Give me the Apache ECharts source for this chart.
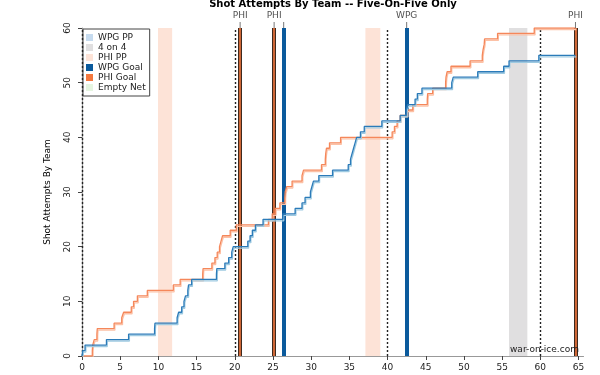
<!DOCTYPE html>
<html>
<head>
<meta charset="utf-8">
<script src="https://cdn.jsdelivr.net/npm/echarts@6/dist/echarts.min.js"></script>
<style>
  html, body { margin: 0; padding: 0; background: #fff; }
  #chart { width: 600px; height: 375px; }
</style>
</head>
<body>
<div id="chart"></div>
<script>
// cumulative shot attempts, step points (game minute, count)
var phiTimes = [0, 1.35, 1.4, 1.6, 1.95, 2.0, 4.2, 5.2, 5.45, 6.45, 6.75, 7.25, 8.55, 11.95, 12.85, 15.8, 15.85, 17.0, 17.4, 17.7, 18.0, 18.2, 18.4, 19.4, 20.2, 24.4, 24.9, 25.3, 25.9, 26.55, 26.6, 26.8, 27.5, 28.8, 29.0, 31.35, 31.85, 31.9, 32.0, 32.4, 33.85, 40.6, 40.9, 41.25, 41.65, 42.55, 43.3, 45.2, 45.25, 45.9, 47.6, 47.65, 47.8, 48.3, 50.8, 52.4, 52.5, 52.65, 52.7, 54.4, 59.2, 64.6];
var phiCounts = [0, 1, 2, 3, 4, 5, 6, 7, 8, 9, 10, 11, 12, 13, 14, 15, 16, 17, 18, 19, 20, 21, 22, 23, 24, 25, 26, 27, 28, 29, 30, 31, 32, 33, 34, 35, 36, 37, 38, 39, 40, 41, 42, 43, 44, 45, 46, 47, 48, 49, 50, 51, 52, 53, 54, 55, 56, 57, 58, 59, 60, 60];
var wpgTimes = [0, 0.1, 0.4, 3.2, 6.1, 9.5, 9.55, 12.45, 12.65, 13.05, 13.35, 13.55, 13.85, 13.95, 14.35, 17.6, 17.65, 18.7, 19.2, 19.6, 19.8, 21.7, 22.0, 22.3, 22.7, 23.7, 26.3, 27.9, 28.8, 29.2, 29.9, 30.1, 30.3, 31.0, 32.8, 34.85, 35.15, 35.35, 35.55, 35.75, 35.95, 36.45, 36.95, 39.25, 41.65, 42.45, 42.65, 43.6, 43.9, 44.5, 48.4, 48.6, 51.8, 55.2, 55.9, 59.8, 64.6];
var wpgCounts = [0, 1, 2, 3, 4, 5, 6, 7, 8, 9, 10, 11, 12, 13, 14, 15, 16, 17, 18, 19, 20, 21, 22, 23, 24, 25, 26, 27, 28, 29, 30, 31, 32, 33, 34, 35, 36, 37, 38, 39, 40, 41, 42, 43, 44, 45, 46, 47, 48, 49, 50, 51, 52, 53, 54, 55, 55];

var periodEnds = [0, 20, 40, 60];
var phiPP = [[9.95, 11.8], [37.1, 39.05]];
var fourOnFour = [[55.9, 58.3]];
var wpgGoals = [26.4, 42.5];
var phiGoals = [20.7, 25.15, 64.6];
var goalTimes = [20.7, 25.15, 26.4, 42.5, 64.6];
var goalLabels = ['PHI', 'PHI', '', 'WPG', 'PHI'];
var xTicks = [0, 5, 10, 15, 20, 25, 30, 35, 40, 45, 50, 55, 60, 65];

var font = 'DejaVu Sans';
function zip(a, b) { return a.map(function (v, i) { return [v, b[i]]; }); }
function vlines(arr) { return arr.map(function (v) { return { xAxis: v }; }); }
function areas(arr) { return arr.map(function (p) { return [{ xAxis: p[0] }, { xAxis: p[1] }]; }); }

var chart = echarts.init(document.getElementById('chart'));
var option = {
  animation: false,
  textStyle: { fontFamily: font },
  title: [
    {
      text: 'Shot Attempts By Team -- Five-On-Five Only',
      left: 333, textAlign: 'center', top: -1, padding: 0,
      textStyle: { fontFamily: font, fontSize: 10, fontWeight: 'bold', color: '#000' }
    },
    {
      text: 'war-on-ice.com',
      left: 510, top: 345, padding: 0,
      textStyle: { fontFamily: font, fontSize: 9, fontWeight: 'normal', color: '#222' }
    }
  ],
  legend: {
    data: ['WPG PP', '4 on 4', 'PHI PP', 'WPG Goal', 'PHI Goal', 'Empty Net'],
    orient: 'vertical',
    left: 83, top: 29,
    icon: 'rect',
    itemWidth: 7, itemHeight: 7, itemGap: 1,
    padding: [4, 4, 4, 3],
    borderColor: '#444', borderWidth: 1,
    backgroundColor: '#fff',
    textStyle: { fontFamily: font, fontSize: 9, color: '#222' }
  },
  grid: { left: 82, right: 16.5, top: 28, bottom: 19 },
  xAxis: [
    {
      type: 'value', min: 0, max: 65.65, position: 'bottom', offset: 5,
      axisLine: { show: false },
      axisTick: { length: 4, customValues: xTicks, lineStyle: { color: '#444' } },
      axisLabel: { customValues: xTicks, margin: 2, fontSize: 9, color: '#222', fontFamily: font },
      splitLine: { show: false }
    },
    {
      type: 'value', min: 0, max: 65.65, position: 'top',
      axisLine: { show: true, lineStyle: { color: '#999', width: 1.2 } },
      axisTick: { show: false }, axisLabel: { show: false }, splitLine: { show: false }
    }
  ],
  yAxis: [
    {
      type: 'value', min: 0, max: 60, interval: 10, offset: 2,
      name: 'Shot Attempts By Team', nameLocation: 'middle', nameGap: 28,
      nameTextStyle: { fontFamily: font, fontSize: 9, color: '#000' },
      axisLine: { show: false },
      axisTick: { length: 4, lineStyle: { color: '#444' } },
      axisLabel: { rotate: 90, margin: 8, fontSize: 9, color: '#222', fontFamily: font },
      splitLine: { show: false }
    },
    {
      type: 'value', min: 0, max: 60, position: 'right',
      axisLine: { show: true, lineStyle: { color: '#999', width: 1.2 } },
      axisTick: { show: false }, axisLabel: { show: false }, splitLine: { show: false }
    }
  ],
  series: [
    { name: 'WPG PP', type: 'line', data: [], itemStyle: { color: '#c6dbef' } },
    {
      name: '4 on 4', type: 'line', data: [], itemStyle: { color: '#e0dfe0' },
      markArea: { silent: true, itemStyle: { color: '#e0dfe0' }, data: areas(fourOnFour) }
    },
    {
      name: 'PHI PP', type: 'line', data: [], itemStyle: { color: '#fde3d7' },
      markArea: { silent: true, itemStyle: { color: '#fde3d7' }, data: areas(phiPP) }
    },
    {
      name: 'periods', type: 'line', data: [],
      markLine: {
        silent: true, symbol: 'none', label: { show: false },
        lineStyle: { color: '#222', type: [2, 2], width: 1.4 },
        data: vlines(periodEnds)
      }
    },
    { name: 'Empty Net', type: 'line', data: [], itemStyle: { color: '#e5f5e0' } },
    {
      name: 'PHI', type: 'line', step: 'end', showSymbol: false, z: 5,
      data: zip(phiTimes, phiCounts),
      lineStyle: { color: '#f5875a', width: 1.3, shadowColor: '#fcc1a6', shadowBlur: 0, shadowOffsetX: 0.8, shadowOffsetY: 1.5 }
    },
    {
      name: 'WPG', type: 'line', step: 'end', showSymbol: false, z: 5,
      data: zip(wpgTimes, wpgCounts),
      lineStyle: { color: '#2b7bb9', width: 1.3, shadowColor: '#9ecae1', shadowBlur: 0, shadowOffsetX: 0.8, shadowOffsetY: 1.5 }
    },
    {
      name: 'WPG Goal', type: 'line', data: [], z: 6, itemStyle: { color: '#0b5a9c' },
      markLine: {
        silent: true, symbol: 'none', label: { show: false },
        lineStyle: { color: '#0b5a9c', type: 'solid', width: 4 },
        data: vlines(wpgGoals)
      }
    },
    {
      name: 'PHI Goal', type: 'line', data: [], z: 6, itemStyle: { color: '#f4783e' },
      markLine: {
        silent: true, symbol: 'none', label: { show: false },
        lineStyle: { color: '#3e2a1f', type: 'solid', width: 4 },
        data: vlines(phiGoals)
      }
    },
    {
      name: 'phiGoalInner', type: 'line', data: [], z: 7,
      markLine: {
        silent: true, symbol: 'none', label: { show: false },
        lineStyle: { color: '#f4783e', type: 'solid', width: 1.6 },
        data: vlines(phiGoals)
      }
    },
    {
      name: 'goalTicks', type: 'scatter', z: 8, clip: false, silent: true,
      data: goalTimes.map(function (t) { return [t, 60]; }),
      symbol: 'rect', symbolSize: [1, 6], symbolOffset: [0, -3],
      itemStyle: { color: '#555' },
      label: {
        show: true, position: 'top', distance: 2,
        formatter: function (p) { return goalLabels[p.dataIndex]; },
        fontFamily: font, fontSize: 9, color: '#222'
      }
    }
  ]
};
chart.setOption(option);
</script>
</body>
</html>
